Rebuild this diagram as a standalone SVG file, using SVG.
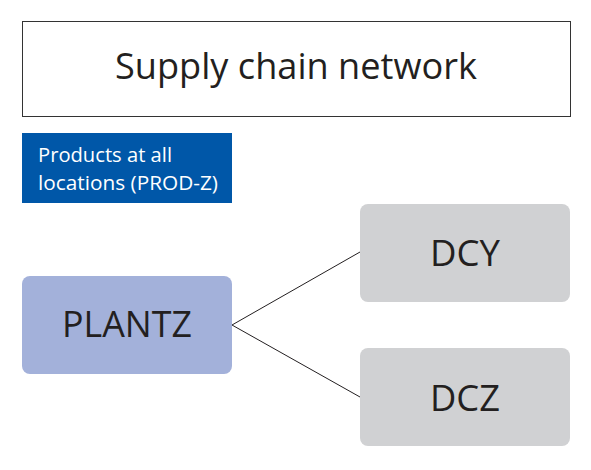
<svg xmlns="http://www.w3.org/2000/svg" width="591" height="470" viewBox="0 0 591 470">
<style>
text{font-family:"Open Sans","Noto Sans","Liberation Sans",sans-serif;fill:#231f20;text-anchor:middle}
.big{font-size:36px}
.gray{fill:#d0d1d3}
.lbl{font-size:20px;fill:#fff;text-anchor:start}
</style>
<rect width="591" height="470" fill="#fff"/>
<g id="title">
<rect x="22.5" y="21.5" width="548" height="95" fill="#fff" stroke="#333" stroke-width="1"/>
<text x="296" y="79" font-size="37" textLength="362" lengthAdjust="spacingAndGlyphs">Supply chain network</text>
</g>
<g id="legend">
<rect x="22" y="133" width="210" height="70" fill="#0057a8"/>
<text class="lbl" x="38" y="162" textLength="134" lengthAdjust="spacingAndGlyphs">Products at all</text>
<text class="lbl" x="38" y="190" textLength="180" lengthAdjust="spacingAndGlyphs">locations (PROD-Z)</text>
</g>
<g id="connectors" stroke="#231f20" stroke-width="1" fill="none">
<line x1="232" y1="325" x2="360" y2="252"/>
<line x1="232" y1="325" x2="360" y2="397"/>
</g>
<g id="PLANTZ">
<rect x="22" y="276" width="210" height="98" rx="8" fill="#a3b1da"/>
<text class="big" x="127" y="337" textLength="130" lengthAdjust="spacingAndGlyphs">PLANTZ</text>
</g>
<g id="DCY">
<rect class="gray" x="360" y="204" width="210" height="98" rx="8"/>
<text class="big" x="465" y="266" textLength="70" lengthAdjust="spacingAndGlyphs">DCY</text>
</g>
<g id="DCZ">
<rect class="gray" x="360" y="348" width="210" height="98" rx="8"/>
<text class="big" x="465" y="411" textLength="70" lengthAdjust="spacingAndGlyphs">DCZ</text>
</g>
</svg>
